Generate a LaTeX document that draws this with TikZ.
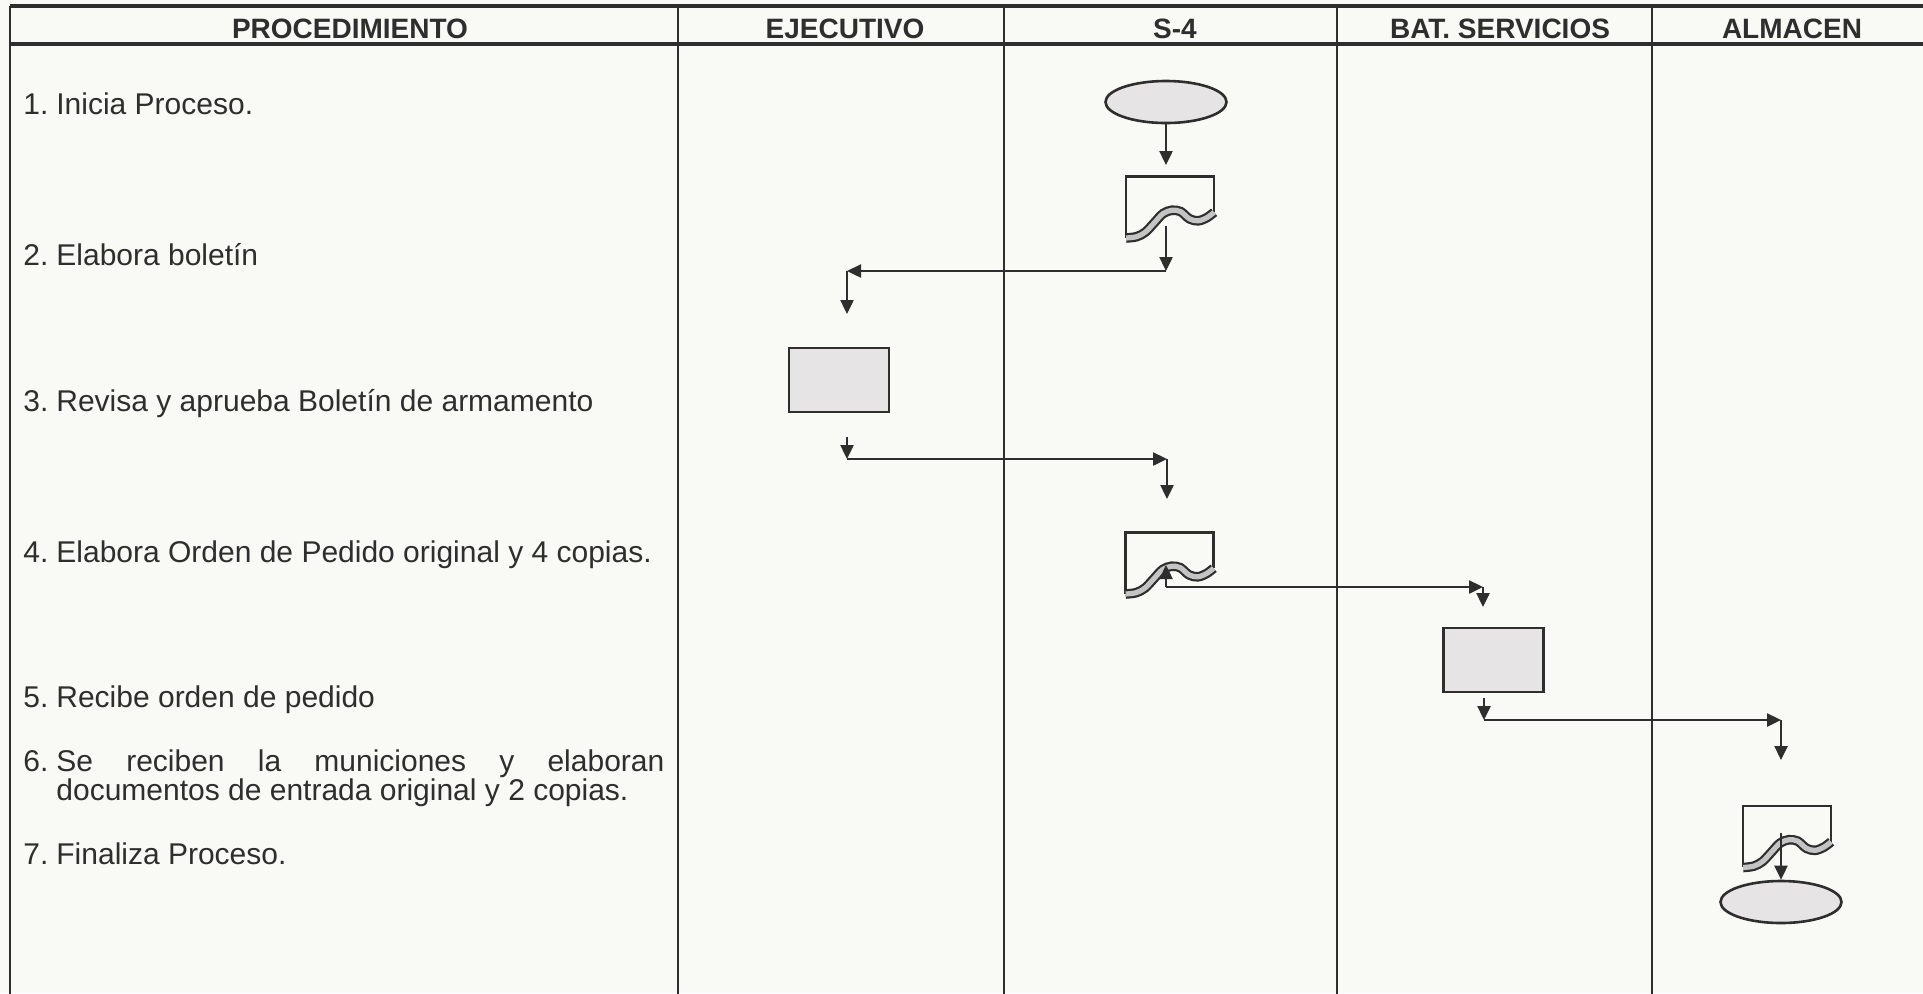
\documentclass[tikz,border=0pt]{standalone}
\usepackage{fontspec}
\setmainfont{Liberation Sans}
\usetikzlibrary{shapes.geometric,arrows.meta}
\definecolor{ink}{HTML}{2E2E2E}
\definecolor{bgc}{HTML}{F9FAF6}
\definecolor{shade}{HTML}{E6E4E4}
\definecolor{band}{HTML}{C4C4C4}
\tikzset{
  ln/.style={draw=ink,line width=1.2pt},
  tbl/.style={draw=ink,line width=1.2pt},
  tblh/.style={draw=ink,line width=1.6pt},
  arr/.style={ln,-{Triangle[length=7pt,width=6.5pt]}},
  startend/.style={ellipse,draw=ink,line width=1.3pt,fill=shade,minimum width=60.5pt,minimum height=21pt,inner sep=0pt},
  procbox/.style={rectangle,draw=ink,line width=1.2pt,fill=shade,minimum width=50pt,minimum height=32pt,inner sep=0pt},
  docbox/.style={rectangle,minimum width=44pt,minimum height=33pt,inner sep=0pt},
  txt/.style={anchor=base west,inner sep=0pt,text=ink,font=\fontsize{15pt}{17pt}\selectfont},
  hdr/.style={anchor=base,inner sep=0pt,text=ink,font=\bfseries\fontsize{14pt}{16pt}\selectfont},
}
\newcommand\docdraw[1]{%
  \begin{scope}[shift={(#1.north west)},x=44pt,y=-33pt]
    \draw[ink,line width=1.2pt] (0,0.93) -- (0,0) -- (1,0) -- (1,0.54);
    \draw[ink,line width=4.8pt] plot[smooth,tension=0.55] coordinates {(0,0.93) (0.12,0.91) (0.22,0.84) (0.32,0.70) (0.42,0.56) (0.52,0.51) (0.62,0.53) (0.72,0.64) (0.82,0.67) (0.92,0.62) (1,0.54)};
    \draw[band,line width=2.6pt] plot[smooth,tension=0.55] coordinates {(0,0.93) (0.12,0.91) (0.22,0.84) (0.32,0.70) (0.42,0.56) (0.52,0.51) (0.62,0.53) (0.72,0.64) (0.82,0.67) (0.92,0.62) (1,0.54)};
  \end{scope}}
\begin{document}
\begin{tikzpicture}[x=0.5pt,y=-0.5pt]
\useasboundingbox (0,0) rectangle (1923,993);
\fill[bgc] (0,0) rectangle (1923,993);
% table
\draw[tblh] (10,6) -- (1935,6);
\draw[tblh] (10,44) -- (1935,44);
\draw[tbl] (10,6) -- (10,1000);
\foreach \xx in {678,1004,1337,1652} {\draw[tbl] (\xx,6) -- (\xx,1000);}
% headers
\node[hdr] (h1) at (350,38) {PROCEDIMIENTO};
\node[hdr] (h2) at (845,38) {EJECUTIVO};
\node[hdr] (h3) at (1175,38) {S-4};
\node[hdr] (h4) at (1500,38) {BAT. SERVICIOS};
\node[hdr] (h5) at (1792,38) {ALMACEN};
% procedure text
\node[txt] (n1) at (23,114) {1.};
\node[txt] (t1) at (56,114) {Inicia Proceso.};
\node[txt] (n2) at (23,265) {2.};
\node[txt] (t2) at (56,265) {Elabora boletín};
\node[txt] (n3) at (23,411) {3.};
\node[txt] (t3) at (56,411) {Revisa y aprueba Boletín de armamento};
\node[txt] (n4) at (23,562) {4.};
\node[txt] (t4) at (56,562) {Elabora Orden de Pedido original y 4 copias.};
\node[txt] (n5) at (23,707) {5.};
\node[txt] (t5) at (56,707) {Recibe orden de pedido};
\node[txt] (n6) at (23,771) {6.};
\node[txt] (t6) at (56,771) {\makebox[304pt][s]{Se reciben la municiones y elaboran}};
\node[txt] (t6b) at (56,800) {documentos de entrada original y 2 copias.};
\node[txt] (n7) at (23,864) {7.};
\node[txt] (t7) at (56,864) {Finaliza Proceso.};
% shapes
\node[startend] (s1) at (1166,102) {};
\node[docbox] (d1) at (1170.5,210) {};
\node[procbox] (r1) at (839,380) {};
\node[docbox] (d2) at (1170,566) {};
\node[procbox] (r2) at (1493.5,660) {};
\node[docbox] (d3) at (1787.5,839.5) {};
\node[startend] (s2) at (1781,902) {};
\docdraw{d1}
\docdraw{d2}
\docdraw{d3}
% connector points
\coordinate (p1) at (1166,165);
\coordinate (p2a) at (1166,226);
\coordinate (p2b) at (1166,271);
\coordinate (p2c) at (847,271);
\coordinate (p2d) at (847,314);
\coordinate (p3a) at (847,437);
\coordinate (p3b) at (847,459);
\coordinate (p3c) at (1167,459);
\coordinate (p3d) at (1167,499);
\coordinate (p4a) at (1166,587);
\coordinate (p4u) at (1166,565);
\coordinate (p4c) at (1483,587);
\coordinate (p4d) at (1483,607);
\coordinate (p5a) at (1484,698);
\coordinate (p5b) at (1484,720);
\coordinate (p5c) at (1781,720);
\coordinate (p5d) at (1781,760);
\coordinate (p6a) at (1781,833);
% connectors
\draw[arr] (s1.south) -- (p1);
\draw[arr] (p2a) -- (p2b);
\draw[arr] (p2b) -- (p2c);
\draw[arr] (p2c) -- (p2d);
\draw[arr] (p3a) -- (p3b);
\draw[arr] (p3b) -- (p3c);
\draw[arr] (p3c) -- (p3d);
\draw[arr] (p4a) -- (p4u);
\draw[arr] (p4a) -- (p4c);
\draw[arr] (p4c) -- (p4d);
\draw[arr] (p5a) -- (p5b);
\draw[arr] (p5b) -- (p5c);
\draw[arr] (p5c) -- (p5d);
\draw[arr] (p6a) -- (s2.north);
\end{tikzpicture}
\end{document}
